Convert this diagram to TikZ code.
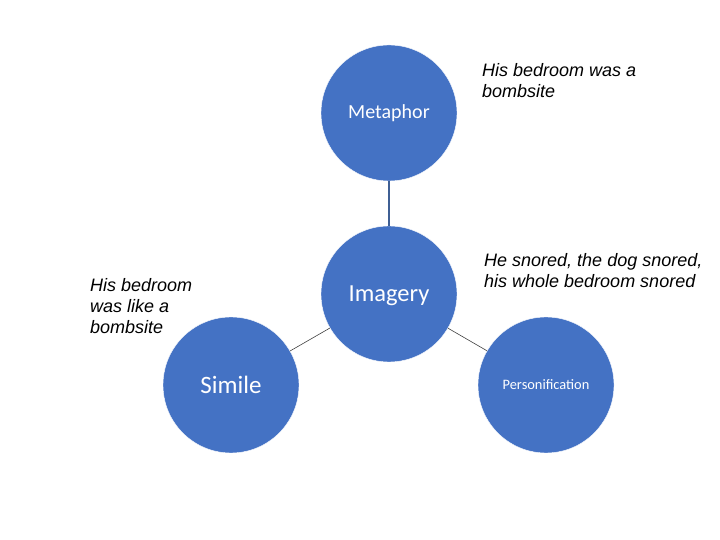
\documentclass[tikz,border=0pt]{standalone}
\usepackage{fontspec}
\setmainfont{Liberation Sans}
\newfontfamily\calibri{Carlito}
\usepackage{tikz}
\usetikzlibrary{arrows,positioning}
\definecolor{circblue}{HTML}{4472C4}
\definecolor{stemblue}{HTML}{3F5F94}
\tikzstyle{main node}=[circle,fill=circblue,draw=white,thin,inner sep=0pt,minimum size=136pt,text=white,font=\calibri]
\tikzstyle{example text}=[anchor=west,align=left,inner sep=0pt,font=\fontsize{18}{21}\selectfont\itshape]

\begin{document}
\begin{tikzpicture}[node distance=1.1cm, on grid]
%
  \useasboundingbox (0,0) rectangle (720pt,540pt);
  \node[main node, text depth=0pt, font=\calibri\fontsize{24.5}{28}\selectfont] (img) at (389pt,246pt) {Imagery};
  \node[main node, font=\calibri\fontsize{20}{24}\selectfont] (meta) [above=181pt of img] {Metaphor};
  \node[main node, font=\calibri\fontsize{25}{29}\selectfont] (sim) [below left=91pt and 158pt of img] {Simile};
  \node[main node, font=\calibri\fontsize{14.4}{17}\selectfont] (pers) [below right=91pt and 157pt of img] {Personification};
%  example sentences
  \node[example text] (metatxt) at (482pt,459.5pt) {His bedroom was a\\bombsite};
  \node[example text] (perstxt) at (484pt,269pt) {He snored, the dog snored,\\his whole bedroom snored};
  \node[example text] (simtxt) at (90pt,234pt) {His bedroom\\was like a\\bombsite};
 \path[draw=black!75, line width=0.6pt]
	(img) edge (sim)
	(img) edge (pers);
 \draw[stemblue, line width=1.6pt] (meta) -- (img);
%
\end{tikzpicture}
\end{document}
